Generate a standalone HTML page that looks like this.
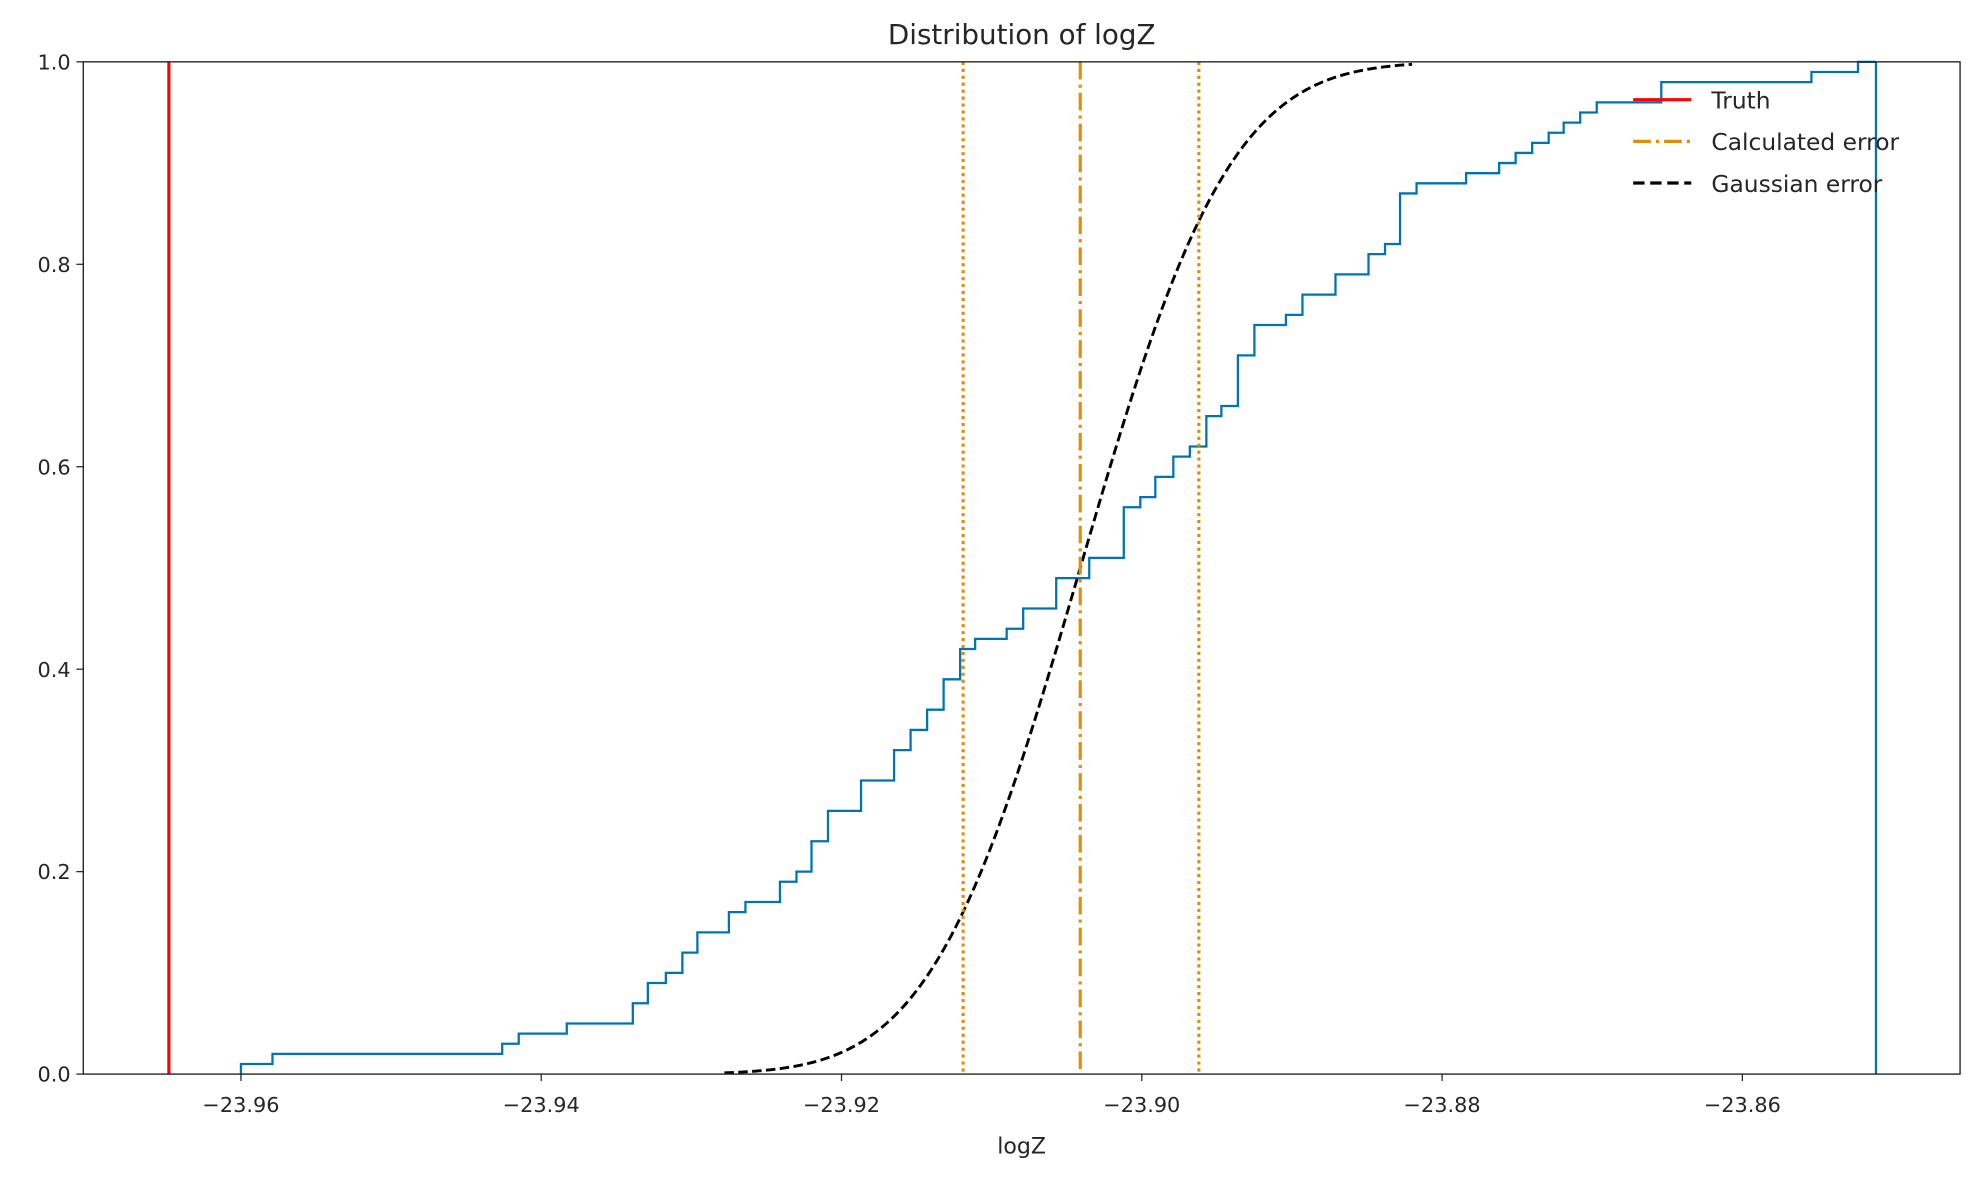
<!DOCTYPE html>
<html><head><meta charset="utf-8"><style>
html,body{margin:0;padding:0;background:#fff;}
svg{display:block;font-family:"DejaVu Sans","Liberation Sans",sans-serif;}
</style></head><body>
<svg id="chart" width="1979" height="1181" viewBox="0 0 1568 935.7" preserveAspectRatio="none" xmlns="http://www.w3.org/2000/svg">
<text x="809.5" y="35" text-anchor="middle" font-size="22" fill="#262626">Distribution of logZ</text>
<g id="plot"></g>
<g id="axes"></g>
<text x="809.5" y="914" text-anchor="middle" font-size="17.5" fill="#262626">logZ</text>
<g font-size="18.5" fill="#262626">
 <g><line x1="1294" y1="79" x2="1340" y2="79" stroke="#ff0000" stroke-width="2.5"/><text x="1356" y="86">Truth</text></g>
 <g><line x1="1294" y1="112" x2="1340" y2="112" stroke="#de8f05" stroke-width="2.5" stroke-dasharray="14,4,2.5,4"/><text x="1356" y="119">Calculated error</text></g>
 <g><line x1="1294" y1="145" x2="1340" y2="145" stroke="#000" stroke-width="2.5" stroke-dasharray="9,4.5"/><text x="1356" y="152">Gaussian error</text></g>
</g>
</svg>
<script>
const stepX=[-23.9600,-23.9579,-23.9426,-23.9415,-23.9383,-23.9339,-23.9329,-23.9317,-23.9306,-23.9296,-23.9275,-23.9264,-23.9241,-23.9230,-23.9220,-23.9209,-23.9187,-23.9165,-23.9154,-23.9143,-23.9132,-23.9121,-23.9111,-23.9090,-23.9079,-23.9057,-23.9035,-23.9012,-23.9001,-23.8991,-23.8979,-23.8968,-23.8957,-23.8947,-23.8936,-23.8925,-23.8904,-23.8893,-23.8871,-23.8849,-23.8838,-23.8828,-23.8817,-23.8784,-23.8762,-23.8751,-23.8740,-23.8729,-23.8719,-23.8708,-23.8697,-23.8654,-23.8554,-23.8523];
const stepY=[0.01,0.02,0.03,0.04,0.05,0.07,0.09,0.10,0.12,0.14,0.16,0.17,0.19,0.20,0.23,0.26,0.29,0.32,0.34,0.36,0.39,0.42,0.43,0.44,0.46,0.49,0.51,0.56,0.57,0.59,0.61,0.62,0.65,0.66,0.71,0.74,0.75,0.77,0.79,0.81,0.82,0.87,0.88,0.89,0.90,0.91,0.92,0.93,0.94,0.95,0.96,0.98,0.99,1.00];
const maxSample=-23.8511;
const truth=-23.9648;
const calcMean=-23.9041;
const calcErrLo=-23.9119;
const calcErrHi=-23.8962;
const gaussRange=[-23.9278,-23.8820];
const xTicks=[-23.96,-23.94,-23.92,-23.90,-23.88,-23.86];
const yTicks=[0,0.2,0.4,0.6,0.8,1.0];

const L=66,R=1553,T=49,B=851,X0=-23.9705,X1=-23.8455;
const xs=v=>L+(v-X0)/(X1-X0)*(R-L);
const ys=v=>B-v*(B-T);
const NS="http://www.w3.org/2000/svg";
const plot=document.getElementById('plot'),axes=document.getElementById('axes');
function mk(tag,attrs,parent){const e=document.createElementNS(NS,tag);for(const k in attrs)e.setAttribute(k,attrs[k]);parent.appendChild(e);return e;}
function fmt(v){return (v<0?'\u2212':'')+Math.abs(v).toFixed(2);}

let d='M'+xs(stepX[0])+','+ys(0);
let prev=0;
for(let i=0;i<stepX.length;i++){d+=' L'+xs(stepX[i])+','+ys(prev)+' L'+xs(stepX[i])+','+ys(stepY[i]);prev=stepY[i];}
d+=' L'+xs(maxSample)+','+ys(prev);
const ecdf=mk('path',{d:d,fill:'none',stroke:'#0173b2','stroke-width':1.8},plot);


const mx=mk('line',{x1:xs(maxSample),x2:xs(maxSample),y1:ys(0),y2:ys(1),stroke:'#0173b2','stroke-width':1.8},plot);



function erf(x){const s=x<0?-1:1;x=Math.abs(x);const t=1/(1+0.3275911*x);const y=1-(((((1.061405429*t-1.453152027)*t)+1.421413741)*t-0.284496736)*t+0.254829592)*t*Math.exp(-x*x);return s*y;}
const sigma=(calcErrHi-calcErrLo)/2;
let gd='';
for(let i=0;i<=200;i++){const v=gaussRange[0]+(gaussRange[1]-gaussRange[0])*i/200;const p=0.5*(1+erf((v-calcMean)/(sigma*Math.SQRT2)));gd+=(i?' L':'M')+xs(v).toFixed(2)+','+ys(p).toFixed(2);}
const g=mk('path',{d:gd,fill:'none',stroke:'#000','stroke-width':2.3,'stroke-dasharray':'7.5,3.5'},plot);



const t=mk('line',{x1:xs(truth),x2:xs(truth),y1:T,y2:B,stroke:'#ff0000','stroke-width':2.5},plot);


const cm=mk('line',{x1:xs(calcMean),x2:xs(calcMean),y1:T,y2:B,stroke:'#de8f05','stroke-width':2.5,'stroke-dasharray':'14,4,2.5,4'},plot);


[calcErrLo,calcErrHi].forEach((v,i)=>{const e=mk('line',{x1:xs(v),x2:xs(v),y1:T,y2:B,stroke:'#de8f05','stroke-width':2.5,'stroke-dasharray':'2.5,3'},plot);

});

const fr=mk('rect',{x:L,y:T,width:R-L,height:B-T,fill:'none',stroke:'#262626','stroke-width':1.1},axes);


xTicks.forEach(v=>{const x=xs(v);mk('line',{x1:x,x2:x,y1:B,y2:B+5.5,stroke:'#262626','stroke-width':1},axes);
const tx=mk('text',{x:x,y:B+30,'text-anchor':'middle','font-size':16.5,fill:'#262626'},axes);tx.textContent=fmt(v);

});
yTicks.forEach(v=>{const y=ys(v);mk('line',{x1:L-5.5,x2:L,y1:y,y2:y,stroke:'#262626','stroke-width':1},axes);
const tx=mk('text',{x:L-10,y:y+6,'text-anchor':'end','font-size':16.5,fill:'#262626'},axes);tx.textContent=v.toFixed(1);

});
</script>
</body></html>
